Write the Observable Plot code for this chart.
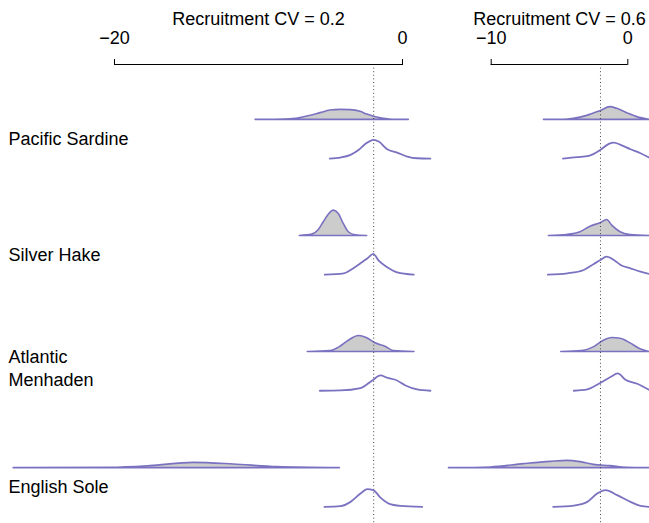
<!DOCTYPE html>
<html>
<head>
<meta charset="utf-8">
<script src="https://cdn.jsdelivr.net/npm/d3@7"></script>
<script src="https://cdn.jsdelivr.net/npm/@observablehq/plot@0.6"></script>
<style>
  html, body { margin: 0; padding: 0; background: #fff; }
  #wrap { position: relative; width: 649px; height: 523px; overflow: hidden; }
  #left { position: absolute; left: 0; top: 0; }
  #right { position: absolute; left: 440px; top: 0; }
</style>
</head>
<body>
<div id="wrap"><div id="left"></div><div id="right"></div></div>
<script>
// ---- data: [x, density] pairs ----
const species = ["Pacific Sardine", "Silver Hake", "Atlantic Menhaden", "English Sole"];
const speciesLabels = ["Pacific Sardine", "Silver Hake", "Atlantic\nMenhaden", "English Sole"];
const panelTitles = ["Recruitment CV = 0.2", "Recruitment CV = 0.6"];
const leftTicks = [-20, 0];
const rightTicks = [-10, 0];
const refValue = -2;

// CV = 0.2, upper (filled) curves
const sardine02Upper = [[-10.2,0],[-9.0,0.003],[-7.78,0.013],[-6.62,0.085],[-5.69,0.173],[-5.0,0.24],[-4.31,0.258],[-3.61,0.251],[-2.92,0.207],[-2.45,0.137],[-1.99,0.078],[-1.30,0.026],[-0.63,0],[0.44,0]];
const hake02Upper = [[-7.13,0],[-6.27,0.034],[-5.81,0.155],[-5.47,0.354],[-5.12,0.55],[-4.77,0.654],[-4.42,0.568],[-4.08,0.31],[-3.73,0.096],[-3.26,0.018],[-2.45,0]];
const menhaden02Upper = [[-6.58,0],[-5.0,0.026],[-4.31,0.137],[-3.73,0.292],[-3.03,0.413],[-2.45,0.354],[-1.875,0.225],[-1.18,0.137],[-0.60,0.026],[0.83,0]];
const sole02Upper = [[-27.0,0],[-20.28,0.008],[-17.5,0.052],[-14.49,0.137],[-11.72,0.096],[-8.70,0.026],[-4.35,0]];
// CV = 0.2, lower (line) curves
const sardine02Lower = [[-5.05,0],[-4.31,0.026],[-3.61,0.096],[-3.03,0.225],[-2.57,0.38],[-1.99,0.483],[-1.65,0.439],[-1.06,0.24],[-0.37,0.155],[0.33,0.052],[1.02,0.008],[1.94,0]];
const hake02Lower = [[-5.40,0],[-4.08,0.034],[-3.49,0.147],[-2.92,0.292],[-2.41,0.432],[-2.03,0.535],[-1.65,0.362],[-1.06,0.189],[-0.37,0.059],[0.78,0]];
const menhaden02Lower = [[-5.74,0],[-4.31,0.008],[-2.92,0.07],[-2.10,0.266],[-1.53,0.395],[-1.06,0.336],[-0.49,0.284],[0.21,0.137],[1.02,0.034],[1.94,0]];
const sole02Lower = [[-5.42,0],[-4.31,0.018],[-3.61,0.129],[-2.92,0.344],[-2.45,0.457],[-2.03,0.432],[-1.53,0.24],[-0.95,0.085],[-0.14,0.026],[1.37,0]];
// CV = 0.6, upper (filled) curves
const sardine06Upper = [[-6.14,0],[-4.68,0],[-3.95,0.026],[-2.97,0.103],[-2.0,0.225],[-1.27,0.328],[-0.78,0.284],[-0.04,0.173],[0.69,0.07],[1.59,0]];
const hake06Upper = [[-5.78,0],[-4.43,0.026],[-3.46,0.096],[-2.73,0.24],[-2.0,0.328],[-1.51,0.413],[-1.14,0.266],[-0.53,0.096],[0.20,0.026],[1.59,0]];
const menhaden06Upper = [[-4.87,0],[-3.34,0.026],[-2.49,0.121],[-1.76,0.292],[-1.14,0.362],[-0.53,0.344],[0.20,0.225],[0.93,0.07],[1.59,0]];
const sole06Upper = [[-13.09,0],[-10.04,0.018],[-7.61,0.103],[-5.65,0.163],[-4.43,0.189],[-3.46,0.155],[-2.49,0.085],[-1.27,0.052],[-0.04,0.008],[1.59,0]];
// CV = 0.6, lower (line) curves
const sardine06Lower = [[-4.75,0],[-3.70,0.034],[-2.85,0.07],[-2.0,0.225],[-1.39,0.38],[-1.02,0.413],[-0.53,0.354],[0.20,0.24],[0.93,0.137],[1.59,0.018]];
const hake06Lower = [[-5.85,0],[-4.43,0.034],[-3.22,0.121],[-2.49,0.276],[-2.0,0.38],[-1.56,0.465],[-1.02,0.38],[-0.53,0.251],[0.20,0.163],[0.93,0.078],[1.59,0.018]];
const menhaden06Lower = [[-3.95,0],[-2.97,0.034],[-2.12,0.181],[-1.27,0.354],[-0.73,0.447],[-0.17,0.284],[0.69,0.181],[1.59,0.018]];
const sole06Lower = [[-5.46,0],[-3.95,0.034],[-2.97,0.129],[-2.24,0.344],[-1.63,0.432],[-0.78,0.302],[0.20,0.129],[0.93,0.026],[1.59,0]];

// ---- layout (ridgeline offsets in density units) ----
const ROW_STEP = 3, PAIR_GAP = 1;
const yDomain = [-10.43, 1.43];
const purple = "#7a72c0";
const fontFamily = "'Liberation Sans', Arial, Helvetica, sans-serif";

function ridge(curves, gap) {
  return curves.flatMap((pts, i) => {
    const base = -ROW_STEP * i - gap;
    return pts.map(([x, d]) => ({species: species[i], x, base, top: base + d}));
  });
}

function panel({title, domain, ticks, width, marginLeft, marginRight, upper, lower, labels}) {
  const up = ridge(upper, 0);
  const lo = ridge(lower, PAIR_GAP);
  const labelRows = speciesLabels.map((s, i) => ({label: s, y: -ROW_STEP * i - PAIR_GAP / 2}));
  const marks = [
    Plot.areaY(up, {x: "x", y1: "base", y2: "top", z: "species", fill: "#cccccc", stroke: purple, strokeWidth: 1.6, curve: "monotone-x"}),
    Plot.ruleX([refValue], {stroke: "#444", strokeWidth: 1, strokeDasharray: "1,2.6"}),
    Plot.lineY(lo, {x: "x", y: "top", z: "species", stroke: purple, strokeWidth: 1.8, curve: "monotone-x"}),
    Plot.ruleY([{y: yDomain[1], x1: domain[0], x2: domain[1]}], {y: "y", x1: "x1", x2: "x2", stroke: "#000", strokeWidth: 1}),
    Plot.axisX(ticks, {anchor: "top", tickSize: 6, tickPadding: 15, tickFormat: d3.format("d"), stroke: "#000", fill: "#000"}),
    Plot.text([title], {frameAnchor: "top", dy: -45, fill: "#000", lineAnchor: "middle"})
  ];
  if (labels) {
    marks.push(Plot.text(labelRows.filter(d => !d.label.includes("\n")), {x: null, y: "y", text: "label", frameAnchor: "left", textAnchor: "start", dx: 8 - marginLeft, fill: "#000"}));
    marks.push(Plot.text(labelRows.filter(d => d.label.includes("\n")), {x: null, y: "y", text: "label", frameAnchor: "left", textAnchor: "start", dx: 8 - marginLeft, dy: -4, lineHeight: 1.25, fill: "#000"}));
  }
  return Plot.plot({
    width, height: 523,
    marginLeft, marginRight, marginTop: 64, marginBottom: 0,
    x: {domain, label: null},
    y: {domain: yDomain, axis: null},
    style: {fontSize: "18px", fontFamily, background: "transparent", color: "#000"},
    marks
  });
}

document.getElementById("left").appendChild(panel({
  title: panelTitles[0], domain: [-20, 0], ticks: leftTicks,
  width: 440, marginLeft: 114, marginRight: 38,
  upper: [sardine02Upper, hake02Upper, menhaden02Upper, sole02Upper],
  lower: [sardine02Lower, hake02Lower, menhaden02Lower, sole02Lower],
  labels: true
}));
document.getElementById("right").appendChild(panel({
  title: panelTitles[1], domain: [-10, 0], ticks: rightTicks,
  width: 209, marginLeft: 50.7, marginRight: 21.7,
  upper: [sardine06Upper, hake06Upper, menhaden06Upper, sole06Upper],
  lower: [sardine06Lower, hake06Lower, menhaden06Lower, sole06Lower],
  labels: false
}));
</script>
</body>
</html>
